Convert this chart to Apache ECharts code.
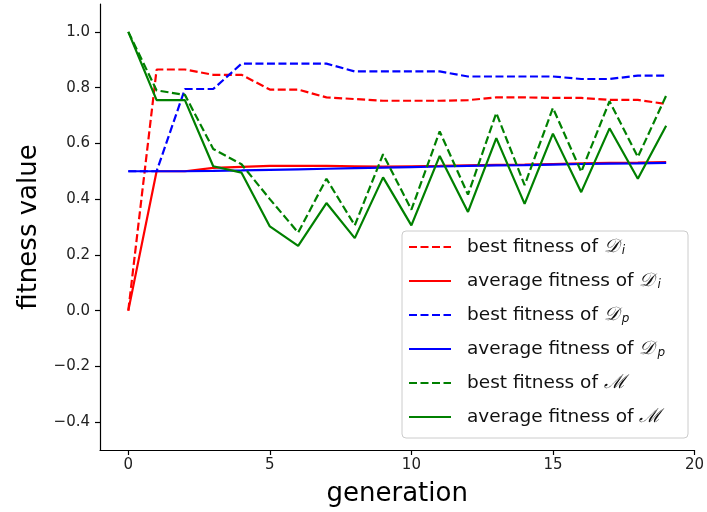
<!DOCTYPE html>
<html>
<head>
<meta charset="utf-8">
<script src="https://cdn.jsdelivr.net/npm/echarts@6/dist/echarts.min.js"></script>
<style>
  html, body { margin: 0; padding: 0; background: #fff; }
  #chart { width: 707px; height: 512px; }
</style>
</head>
<body>
<div id="chart"></div>
<script>
// Generations of the co-evolution run
const generations = [0, 1, 2, 3, 4, 5, 6, 7, 8, 9, 10, 11, 12, 13, 14, 15, 16, 17, 18, 19];

// Fitness per generation
const bestDi = [0.0, 0.865, 0.865, 0.846, 0.846, 0.793, 0.793, 0.765, 0.759, 0.753, 0.753, 0.753, 0.755, 0.765, 0.765, 0.763, 0.763, 0.756, 0.756, 0.741];
const avgDi  = [0.0, 0.5, 0.5, 0.512, 0.516, 0.519, 0.519, 0.519, 0.518, 0.517, 0.518, 0.519, 0.521, 0.523, 0.524, 0.526, 0.528, 0.530, 0.531, 0.533];
const bestDp = [0.5, 0.5, 0.795, 0.795, 0.886, 0.886, 0.886, 0.886, 0.858, 0.858, 0.858, 0.858, 0.84, 0.84, 0.84, 0.84, 0.831, 0.831, 0.843, 0.843];
const avgDp  = [0.5, 0.5, 0.5, 0.501, 0.503, 0.505, 0.507, 0.509, 0.511, 0.513, 0.515, 0.517, 0.519, 0.521, 0.522, 0.524, 0.526, 0.527, 0.528, 0.53];
const bestM  = [1.0, 0.79, 0.774, 0.58, 0.525, 0.40, 0.28, 0.473, 0.306, 0.561, 0.362, 0.643, 0.416, 0.709, 0.45, 0.727, 0.498, 0.751, 0.551, 0.771];
const avgM   = [1.0, 0.755, 0.755, 0.518, 0.495, 0.302, 0.232, 0.386, 0.26, 0.478, 0.306, 0.555, 0.354, 0.619, 0.383, 0.635, 0.425, 0.654, 0.473, 0.663];

// Tick labels
const xTicks = [0, 5, 10, 15, 20];
const yTicks = [-0.4, -0.2, 0.0, 0.2, 0.4, 0.6, 0.8, 1.0];

// Legend entries (rich text for the calligraphic symbols)
const seriesNames = ['bestDi', 'avgDi', 'bestDp', 'avgDp', 'bestM', 'avgM'];
const legendLabels = {
  bestDi: 'best fitness of {cal|𝒟}{sub|i}',
  avgDi: 'average fitness of {cal|𝒟}{sub|i}',
  bestDp: 'best fitness of {cal|𝒟}{sub|p}',
  avgDp: 'average fitness of {cal|𝒟}{sub|p}',
  bestM: 'best fitness of {cal|ℳ}',
  avgM: 'average fitness of {cal|ℳ}'
};

const FONT = '"DejaVu Sans", sans-serif';
const DASH = [8, 3.5];
const LW = 2.2;

function pairs(values) {
  return generations.map((g, i) => [g, values[i]]);
}

function lineSeries(name, values, color, dashed) {
  return {
    name: name,
    type: 'line',
    data: pairs(values),
    symbol: 'none',
    smooth: false,
    animation: false,
    lineStyle: { color: color, width: LW, type: dashed ? DASH : 'solid' },
    itemStyle: { color: color }
  };
}

const chart = echarts.init(document.getElementById('chart'), null, { renderer: 'canvas' });

const fmtNum = v => v.toFixed(1).replace('-', '\u2212');

chart.setOption({
  backgroundColor: '#ffffff',
  animation: false,
  grid: { left: 100, right: 10, top: 4, bottom: 62, containLabel: false },
  xAxis: {
    type: 'value',
    min: -1,
    max: 20,
    name: 'generation',
    nameLocation: 'middle',
    nameGap: 31,
    nameTextStyle: { fontFamily: FONT, fontSize: 26, color: '#000' },
    axisLine: { show: true, onZero: false, lineStyle: { color: '#000', width: 1.2 } },
    axisTick: { show: true, length: 5, lineStyle: { color: '#000', width: 1.2 }, customValues: xTicks },
    axisLabel: { fontFamily: FONT, fontSize: 15, color: '#222', margin: 8, customValues: xTicks, formatter: v => String(v) },
    splitLine: { show: false }
  },
  yAxis: {
    type: 'value',
    min: -0.5,
    max: 1.1,
    name: 'fitness value',
    nameLocation: 'middle',
    nameGap: 58,
    nameRotate: 90,
    nameTextStyle: { fontFamily: FONT, fontSize: 26, color: '#000' },
    axisLine: { show: true, onZero: false, lineStyle: { color: '#000', width: 1.2 } },
    axisTick: { show: true, length: 5, lineStyle: { color: '#000', width: 1.2 }, customValues: yTicks },
    axisLabel: { fontFamily: FONT, fontSize: 15, color: '#222', margin: 10, customValues: yTicks, formatter: fmtNum },
    splitLine: { show: false }
  },
  graphic: [{
    type: 'rect',
    z: 3,
    shape: { x: 402, y: 231, width: 286, height: 207, r: 4 },
    style: { fill: 'rgba(255,255,255,0.85)', stroke: '#cccccc', lineWidth: 1 }
  }],
  legend: {
    orient: 'vertical',
    left: 408,
    top: 236,
    padding: 0,
    itemWidth: 42,
    itemHeight: 14,
    itemGap: 12,
    z: 5,
    data: seriesNames,
    itemStyle: { color: 'transparent', borderColor: 'transparent', borderWidth: 0, opacity: 0 },
    formatter: name => legendLabels[name],
    textStyle: {
      fontFamily: FONT,
      fontSize: 18.5,
      lineHeight: 22,
      color: '#111',
      padding: [0, 0, 0, 11],
      rich: {
        cal: { fontFamily: '"DejaVu Serif", serif', fontStyle: 'italic', fontSize: 19, lineHeight: 22, color: '#111' },
        sub: { fontFamily: FONT, fontStyle: 'italic', fontSize: 12, lineHeight: 12, color: '#111', padding: [8, 0, 0, 3] }
      }
    }
  },
  series: [
    lineSeries('bestDi', bestDi, '#ff0000', true),
    lineSeries('avgDi', avgDi, '#ff0000', false),
    lineSeries('bestDp', bestDp, '#0000ff', true),
    lineSeries('avgDp', avgDp, '#0000ff', false),
    lineSeries('bestM', bestM, '#008000', true),
    lineSeries('avgM', avgM, '#008000', false)
  ]
});
</script>
</body>
</html>
